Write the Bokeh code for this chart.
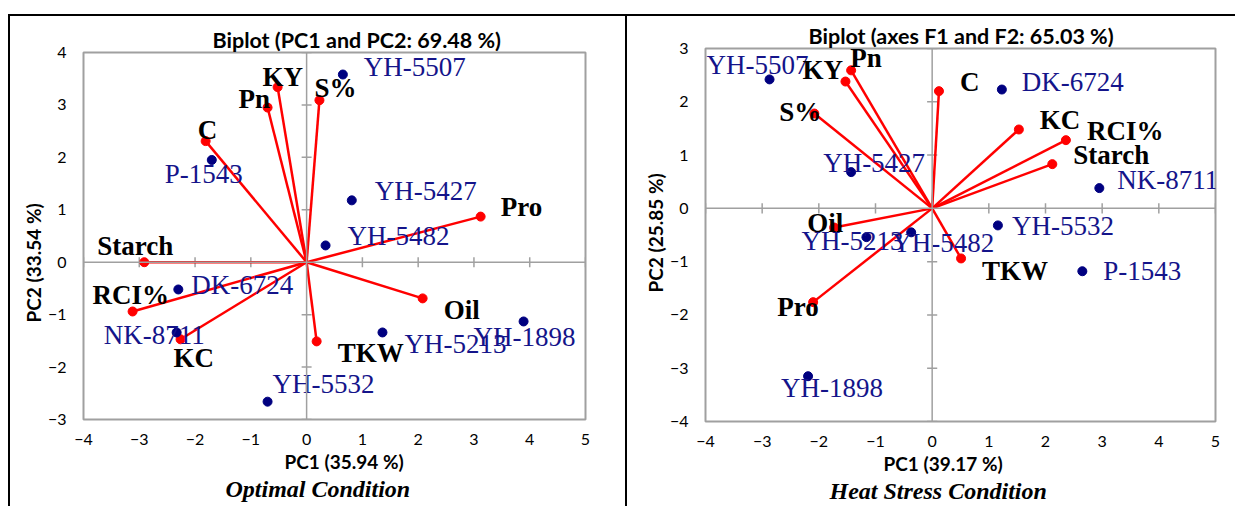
from bokeh.plotting import figure
from bokeh.models import Title, Range1d, ColumnDataSource, Span, Spacer
from bokeh.layouts import row, column
from bokeh.core.properties import value
from bokeh.embed import file_html
from bokeh.resources import INLINE

# ---------------- data: Optimal condition ----------------
opt_obs = ["YH-5507", "P-1543", "YH-5427", "YH-5482", "DK-6724", "NK-8711", "YH-5532", "YH-5213", "YH-1898"]
opt_obs_pc1 = [0.65, -1.70, 0.81, 0.34, -2.30, -2.33, -0.70, 1.36, 3.89]
opt_obs_pc2 = [3.58, 1.95, 1.18, 0.32, -0.52, -1.34, -2.66, -1.34, -1.13]
opt_var = ["KY", "Pn", "C", "S%", "Pro", "Starch", "RCI%", "KC", "Oil", "TKW"]
opt_var_pc1 = [-0.52, -0.70, -1.81, 0.23, 3.12, -2.91, -3.12, -2.26, 2.08, 0.18]
opt_var_pc2 = [3.34, 2.95, 2.31, 3.09, 0.87, 0.00, -0.94, -1.47, -0.69, -1.51]

# ---------------- data: Heat stress condition ----------------
heat_obs = ["YH-5507", "DK-6724", "YH-5427", "NK-8711", "YH-5213", "YH-5482", "YH-5532", "P-1543", "YH-1898"]
heat_obs_pc1 = [-2.87, 1.23, -1.43, 2.95, -1.16, -0.37, 1.16, 2.65, -2.19]
heat_obs_pc2 = [2.42, 2.23, 0.68, 0.38, -0.54, -0.45, -0.32, -1.18, -3.15]
heat_var = ["Pn", "KY", "S%", "C", "KC", "RCI%", "Starch", "Oil", "TKW", "Pro"]
heat_var_pc1 = [-1.43, -1.53, -2.08, 0.12, 1.53, 2.36, 2.12, -1.73, 0.51, -2.10]
heat_var_pc2 = [2.59, 2.38, 1.78, 2.20, 1.48, 1.28, 0.83, -0.36, -0.94, -1.76]

x_ticks = [-4, -3, -2, -1, 0, 1, 2, 3, 4, 5]
opt_y_ticks = [-3, -2, -1, 0, 1, 2, 3, 4]
heat_y_ticks = [-4, -3, -2, -1, 0, 1, 2, 3]

titles = ["Biplot (PC1 and PC2: 69.48 %)", "Biplot (axes F1 and F2: 65.03 %)"]
x_titles = ["PC1 (35.94 %)", "PC1 (39.17 %)"]
y_titles = ["PC2 (33.54 %)", "PC2 (25.85 %)"]
captions = ["Optimal Condition", "Heat Stress Condition"]

# ---------------- label placement (style, screen px) ----------------
opt_obs_dx = [21, -47, 23, 22, 13, -73, 5, 22, -50]
opt_obs_dy = [-8, 14, -9, -9, -4, 3, -18, 12, 16]
opt_var_dx = [-15, -29, -8, -5, 20, -47, -40, -7, 21, 21]
opt_var_dy = [-10, -9, -11, -12, -10, -16, -16, 19, 12, 12]
heat_obs_dx = [-63, 20, -28, 18, -65, -19, 14, 21, -27]
heat_obs_dy = [-14, -8, -9, -8, 4, 11, 1, 0, 12]
heat_var_dx = [-1, -43, -35, 21, 21, 21, 21, -27, 21, -36]
heat_var_dy = [-12, -12, -2, -9, -9, -9, -9, -5, 13, 5]

# text offsets of titles (style, screen px)
title_off = [129, 103]
xtitle_off = [201, 178]
ytitle_off = [97, 129]
caption_off = [142, 124]

GRAY = "#A0A0A0"
RED = "#FF0000"
NAVY = "#000080"
OBS_TXT = "#14148A"
SANS = "Lato"
SERIF = "Liberation Serif"


def panel(i, width, height, borders, yr, yticks,
          obs, ox, oy, odx, ody, var, vx, vy, vdx, vdy):
    bl, br, bt, bb = borders
    p = figure(width=width, height=height, x_range=Range1d(-4, 5), y_range=Range1d(*yr),
               title=titles[i], output_backend="svg", toolbar_location=None,
               min_border_left=bl, min_border_right=br, min_border_top=bt, min_border_bottom=bb)
    p.margin = 0
    p.background_fill_color = "white"
    p.border_fill_color = "white"
    p.outline_line_color = GRAY
    p.outline_line_width = 2
    p.grid.visible = False

    p.title.align = "left"
    p.title.offset = title_off[i]
    p.title.standoff = 0
    p.title.text_font = SANS
    p.title.text_font_style = "bold"
    p.title.text_font_size = "21.5px"
    p.title.text_color = "black"

    for ax in (p.xaxis[0], p.yaxis[0]):
        ax.axis_line_color = None
        ax.major_tick_line_color = None
        ax.minor_tick_line_color = None
        ax.major_tick_out = 0
        ax.major_tick_in = 0
        ax.major_label_text_font = SANS
        ax.major_label_text_font_size = "16px"
        ax.major_label_text_color = "black"
    p.xaxis.ticker = x_ticks
    p.yaxis.ticker = yticks
    p.xaxis.major_label_standoff = 14
    p.yaxis.major_label_standoff = 17

    # axis titles (as side titles so they can be positioned like the original)
    p.add_layout(Title(text=y_titles[i], align="left", offset=ytitle_off[i], standoff=0,
                       text_font=SANS, text_font_style="bold", text_font_size="19px",
                       text_color="black"), "left")
    p.add_layout(Title(text=x_titles[i], align="left", offset=xtitle_off[i], standoff=0,
                       text_font=SANS, text_font_style="bold", text_font_size="19px",
                       text_color="black"), "below")
    p.add_layout(Title(text=captions[i], align="left", offset=caption_off[i], standoff=2,
                       text_font=SERIF, text_font_style="bold italic", text_font_size="24px",
                       text_color="black"), "below")

    # zero axes with cross ticks
    p.add_layout(Span(location=0, dimension="width", line_color=GRAY, line_width=1.5))
    p.add_layout(Span(location=0, dimension="height", line_color=GRAY, line_width=1.5))
    hx = 5.0 / 52.5
    hy = 5.0 / 56.0
    xt_in = [t for t in x_ticks if t != 0]
    yt_in = [t for t in yticks if t != 0]
    p.segment(x0=xt_in, x1=xt_in, y0=[-hx] * len(xt_in), y1=[hx] * len(xt_in),
              line_color=GRAY, line_width=1.5)
    p.segment(x0=[-hy] * len(yt_in), x1=[hy] * len(yt_in), y0=yt_in, y1=yt_in,
              line_color=GRAY, line_width=1.5)

    # variable vectors
    vsrc = ColumnDataSource(dict(x=vx, y=vy, x0=[0] * len(vx), y0=[0] * len(vx),
                                 name=var, dx=vdx, dy=vdy))
    p.segment(x0="x0", y0="y0", x1="x", y1="y", source=vsrc, line_color=RED, line_width=2.5)
    p.scatter(x="x", y="y", source=vsrc, size=9, fill_color=RED, line_color=RED)

    # observations
    osrc = ColumnDataSource(dict(x=ox, y=oy, name=obs, dx=odx, dy=ody))
    p.scatter(x="x", y="y", source=osrc, size=9, fill_color=NAVY, line_color=NAVY)

    p.text(x="x", y="y", text="name", source=osrc, x_offset="dx", y_offset="dy",
           text_font=value(SERIF), text_font_size="27px", text_color=OBS_TXT,
           text_align="left", text_baseline="middle")
    p.text(x="x", y="y", text="name", source=vsrc, x_offset="dx", y_offset="dy",
           text_font=value(SERIF), text_font_style="bold", text_font_size="27px", text_color="black",
           text_align="left", text_baseline="middle")
    return p


H = 490
p1 = panel(0, 615, H, (73, 40, 36, 87), (-3, 4), opt_y_ticks,
           opt_obs, opt_obs_pc1, opt_obs_pc2, opt_obs_dx, opt_obs_dy,
           opt_var, opt_var_pc1, opt_var_pc2, opt_var_dx, opt_var_dy)
p2 = panel(1, 608, H, (78, 20, 32, 85), (-4, 3), heat_y_ticks,
           heat_obs, heat_obs_pc1, heat_obs_pc2, heat_obs_dx, heat_obs_dy,
           heat_var, heat_var_pc1, heat_var_pc2, heat_var_dx, heat_var_dy)


def rule(w, h):
    return Spacer(width=w, height=h, margin=0, styles={"background-color": "black"})


layout = column(
    Spacer(width=1235, height=14, margin=0),
    row(Spacer(width=8, height=2, margin=0), rule(1227, 2), spacing=0, margin=0),
    row(Spacer(width=8, height=H, margin=0), rule(2, H),
        column(p1, spacing=0, margin=0), rule(2, H),
        column(p2, spacing=0, margin=0), spacing=0, margin=0),
    spacing=0, margin=0,
)
open("out.html", "w").write(file_html(layout, INLINE))
